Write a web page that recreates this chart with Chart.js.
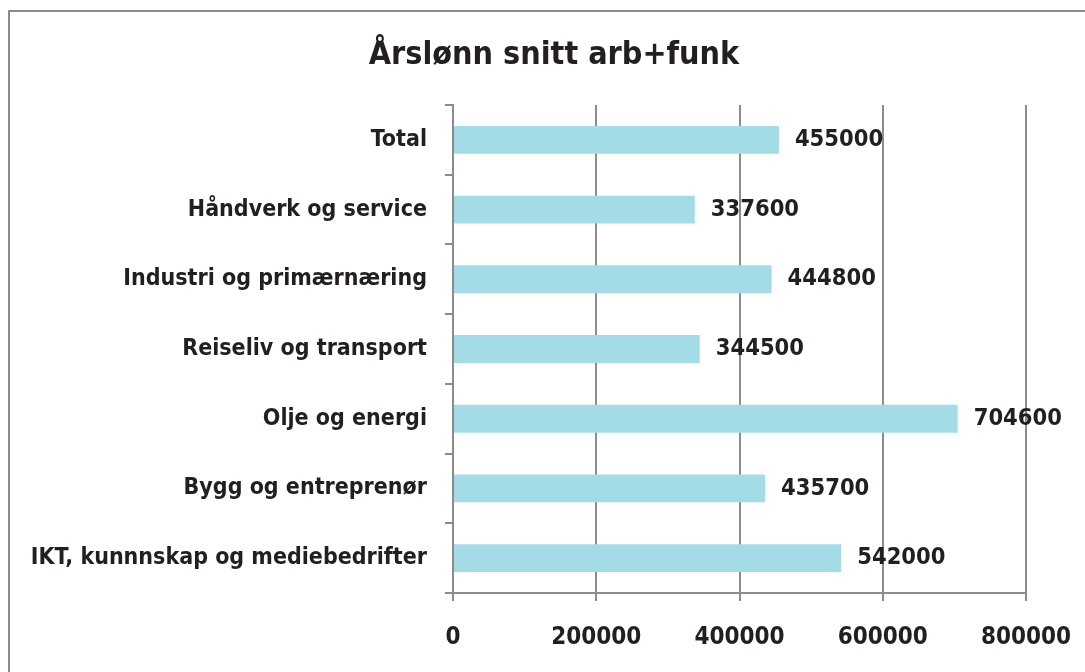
<!DOCTYPE html>
<html>
<head>
<meta charset="utf-8">
<title>Årslønn snitt arb+funk</title>
<script src="https://cdn.jsdelivr.net/npm/chart.js@4/dist/chart.umd.min.js"></script>
<style>
  html, body { margin: 0; padding: 0; background: #fff; overflow: hidden; }
  .frame {
    position: absolute; left: 8px; top: 10px;
    width: 1100px; height: 700px;
    border: 2px solid #8c8c8c;
  }
  .title {
    position: absolute; left: 0; top: 33px; width: 1108px;
    text-align: center;
    font: bold 32px/40px "Liberation Sans Narrow", "DejaVu Sans Condensed", "Arial Narrow", sans-serif;
    color: #231f20;
  }
  #chart { position: absolute; left: 10px; top: 12px; }
</style>
</head>
<body>
<div class="frame"></div>
<canvas id="chart" width="1090" height="670"></canvas>
<div class="title" id="title"></div>
<script>
// Data
const title = 'Årslønn snitt arb+funk';
const categories = [
  'Total',
  'Håndverk og service',
  'Industri og primærnæring',
  'Reiseliv og transport',
  'Olje og energi',
  'Bygg og entreprenør',
  'IKT, kunnnskap og mediebedrifter'
];
const values = [455000, 337600, 444800, 344500, 704600, 435700, 542000];
const xTicks = [0, 200000, 400000, 600000, 800000];

const fontFamily = '"Liberation Sans Narrow", "DejaVu Sans Condensed", "Arial Narrow", sans-serif';
const textColor = '#231f20';
const lineColor = '#8c8c8c';
const barColor = '#a3dce7';

Chart.defaults.font.family = fontFamily;
Chart.defaults.color = textColor;

document.getElementById('title').textContent = title;

// value labels to the right of each bar
const valueLabels = {
  id: 'valueLabels',
  afterDatasetsDraw(chart) {
    const ctx = chart.ctx;
    const meta = chart.getDatasetMeta(0);
    ctx.save();
    ctx.font = 'bold 23.5px ' + fontFamily;
    ctx.fillStyle = textColor;
    ctx.textAlign = 'left';
    ctx.textBaseline = 'middle';
    meta.data.forEach((bar, i) => {
      ctx.fillText(String(values[i]), bar.x + 16, bar.y);
    });
    ctx.restore();
  }
};

new Chart(document.getElementById('chart'), {
  type: 'bar',
  data: {
    labels: categories,
    datasets: [{
      data: values,
      backgroundColor: barColor,
      borderWidth: 0,
      categoryPercentage: 1,
      barPercentage: 0.4
    }]
  },
  options: {
    indexAxis: 'y',
    responsive: false,
    animation: false,
    layout: { padding: { left: 0, right: 74, top: 93, bottom: 0 } },
    plugins: {
      legend: { display: false },
      tooltip: { enabled: false },
      title: { display: false }
    },
    scales: {
      x: {
        min: 0,
        max: 800000,
        afterBuildTicks: scale => { scale.ticks = xTicks.map(v => ({ value: v })); },
        afterFit: scale => { scale.height = 89; },
        ticks: {
          padding: 22,
          font: { size: 24, weight: 'bold' },
          color: textColor,
          callback: value => String(value)
        },
        grid: { color: lineColor, lineWidth: 2, tickLength: 8 },
        border: { color: lineColor, width: 2 }
      },
      y: {
        afterFit: scale => { scale.width = 443; },
        ticks: {
          padding: 18,
          font: { size: 23, weight: 'bold' },
          color: textColor
        },
        grid: { color: lineColor, lineWidth: 2, tickLength: 8, drawOnChartArea: false },
        border: { color: lineColor, width: 2 }
      }
    }
  },
  plugins: [valueLabels]
});
</script>
</body>
</html>
